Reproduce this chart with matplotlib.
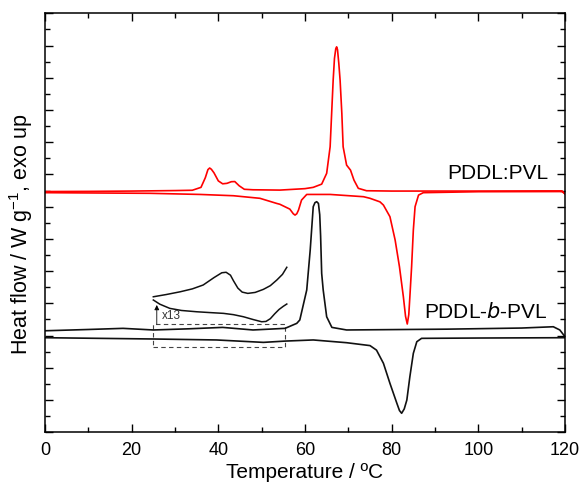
import matplotlib
matplotlib.use('Agg')
from matplotlib import pyplot as plt
from matplotlib.patches import Rectangle
from matplotlib.ticker import MultipleLocator, NullFormatter

# PDDL:PVL cooling scan (exo peaks)
red_cool_t = [0, 10, 20, 30, 34, 36, 37, 37.6, 38, 38.4, 39, 40, 41, 42, 43, 43.8, 44.8, 46, 48,
              54.2, 60, 61.9, 63.85, 65.0, 65.8, 66.15, 66.5, 66.8, 67.1, 67.3, 67.5, 67.8,
              68.1, 68.5, 68.8, 69.6, 70.5, 71.3, 72.3, 74.2, 80, 100, 115, 119.3, 120]
red_cool_y = [14.94, 14.95, 14.97, 15.0, 15.02, 15.2, 15.8, 16.3, 16.4, 16.32, 16.1, 15.6, 15.42,
              15.45, 15.55, 15.56, 15.3, 15.08, 15.05, 15.03, 15.12, 15.2, 15.4, 16.07, 17.72,
              19.79, 21.85, 23.2, 23.8, 23.92, 23.75, 22.9, 21.85, 19.79, 17.72, 16.58, 16.27,
              15.65, 15.14, 14.99, 14.97, 14.97, 14.98, 14.98, 14.8]

# PDDL:PVL heating scan (endo peaks)
red_heat_t = [0, 24.2, 35.8, 43.5, 49.6, 53.5, 54.2, 56.5, 57.3, 57.7, 58.1, 58.5, 59.2, 60.4,
              65.8, 73.5, 75, 77.3, 78.1, 79.6, 80.8, 81.8, 82.7, 83.2, 83.6, 83.95, 84.2, 84.6,
              85.0, 85.4, 86.2, 87.3, 100, 119.3, 120]
red_heat_y = [14.87, 14.83, 14.76, 14.68, 14.52, 14.2, 14.15, 13.85, 13.56, 13.48, 13.56, 13.79,
              14.41, 14.76, 14.76, 14.62, 14.52, 14.3, 14.1, 13.38, 11.93, 10.27, 8.41, 7.2,
              6.72, 7.3, 8.41, 10.27, 12.55, 14.0, 14.72, 14.87, 14.93, 14.94, 14.8]

# PDDL-b-PVL cooling scan
blk_cool_t = [0, 10, 18, 25, 33, 41, 48, 55.4, 58.1, 58.8, 60.4, 61.2, 61.9, 62.3, 62.7, 63.1,
              63.4, 63.6, 63.85, 64.2, 65.0, 66.2, 69.6, 92.7, 110, 117.3, 118.8, 120]
blk_cool_y = [6.30, 6.38, 6.45, 6.35, 6.42, 6.51, 6.35, 6.45, 6.76, 6.97, 8.83, 11.3, 14.0, 14.25,
              14.31, 14.2, 13.5, 12.2, 9.86, 8.83, 7.17, 6.51, 6.35, 6.40, 6.47, 6.55, 6.35, 5.93]

# PDDL-b-PVL heating scan
blk_heat_t = [0, 25, 39.6, 50.4, 55.4, 61.9, 69.6, 75, 76.5, 78.1, 79.6, 81.2, 81.8, 82.3, 82.9,
              83.5, 84.2, 85.0, 85.8, 86.9, 100, 120]
blk_heat_y = [5.87, 5.79, 5.73, 5.58, 5.66, 5.73, 5.56, 5.38, 5.1, 4.28, 3.04, 1.8, 1.35, 1.18,
              1.45, 2.0, 3.45, 4.9, 5.62, 5.83, 5.85, 5.87]

# magnified (x13) region 25-56 degC
mag_cool_t = [25.0, 28.0, 31.2, 34.0, 36.5, 39.0, 40.8, 41.8, 42.8, 43.5, 44.5, 45.5, 46.8, 48.5,
              50.4, 52.0, 53.5, 54.8, 55.8]
mag_cool_y = [8.41, 8.55, 8.72, 8.9, 9.14, 9.6, 9.9, 9.93, 9.75, 9.4, 8.95, 8.7, 8.62, 8.68,
              8.87, 9.1, 9.45, 9.8, 10.24]
mag_heat_t = [25.0, 26.5, 28.8, 31.5, 35.0, 38.0, 41.2, 43.5, 45.8, 48.0, 50.0, 51.0, 52.0, 53.0,
              54.0, 55.0, 55.8]
mag_heat_y = [8.21, 7.95, 7.69, 7.56, 7.48, 7.43, 7.38, 7.3, 7.17, 7.0, 6.86, 6.88, 7.05, 7.35,
              7.62, 7.82, 7.96]

plt.rcParams['font.family'] = ['Liberation Sans', 'DejaVu Sans']
plt.rcParams['mathtext.default'] = 'regular'

fig = plt.figure(figsize=(5.82, 4.86), dpi=100)
ax = fig.add_axes([0.0773, 0.1105, 0.8935, 0.8621])

ax.plot(red_cool_t, red_cool_y, color='#ff0000', lw=1.2)
ax.plot(red_heat_t, red_heat_y, color='#ff0000', lw=1.2)
ax.plot(blk_cool_t, blk_cool_y, color='#111111', lw=1.2)
ax.plot(blk_heat_t, blk_heat_y, color='#111111', lw=1.2)
ax.plot(mag_cool_t, mag_cool_y, color='#111111', lw=1.1)
ax.plot(mag_heat_t, mag_heat_y, color='#111111', lw=1.1)

# zoom box + arrow
ax.add_patch(Rectangle((25, 5.31), 30.4, 1.41, fill=False, ls=(0, (4, 3)),
                       lw=0.8, edgecolor='#444444'))
ax.annotate('', xy=(25.8, 7.9), xytext=(25.8, 6.72),
            arrowprops=dict(arrowstyle='-|>', lw=0.6, color='black',
                            mutation_scale=7, shrinkA=0, shrinkB=0))
ax.text(27.0, 7.2, 'x13', fontsize=8.5, va='center', ha='left', color='#333333')

ax.text(116.1, 16.08, 'PDDL:PVL', fontsize=15, ha='right', va='center')
ax.text(116.1, 7.48, 'PDDL-$\\it{b}$-PVL', fontsize=15, ha='right', va='center')

ax.set_xlim(0, 120)
ax.set_ylim(0, 26)
ax.xaxis.set_major_locator(MultipleLocator(20))
ax.xaxis.set_minor_locator(MultipleLocator(10))
ax.yaxis.set_major_locator(MultipleLocator(2))
ax.yaxis.set_minor_locator(MultipleLocator(1))
ax.yaxis.set_major_formatter(NullFormatter())
ax.tick_params(which='both', direction='in', top=True, right=True, width=1.0)
ax.tick_params(which='major', length=6, labelsize=13, pad=7)
ax.tick_params(which='minor', length=3.5)
for s in ax.spines.values():
    s.set_linewidth(1.1)

ax.set_xlabel('Temperature / ºC', fontsize=15, labelpad=3)
ax.set_ylabel('Heat flow / W g$^{-1}$, exo up', fontsize=15.5)
ax.yaxis.set_label_coords(-0.019, 0.473)

plt.savefig('out.png', dpi=100)
